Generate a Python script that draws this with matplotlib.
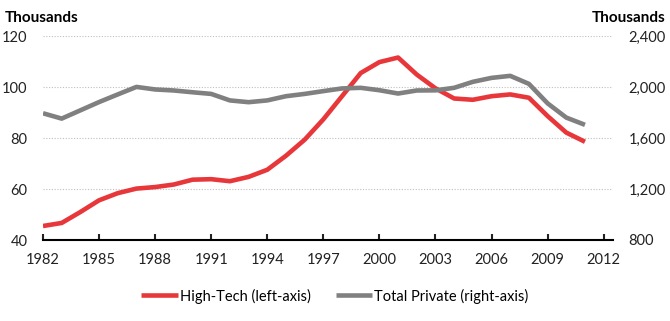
import matplotlib.pyplot as plt

plt.rcParams['font.family'] = ['Lato', 'DejaVu Sans']
plt.rcParams['font.size'] = 10.5

years = list(range(1982, 2012))
high_tech = [45.5, 46.7, 51.0, 55.6, 58.4, 60.2, 60.8, 61.8, 63.7, 63.9,
             63.1, 64.8, 67.6, 73.1, 79.4, 87.4, 96.5, 105.6, 109.9, 111.7,
             105.0, 99.6, 95.6, 95.1, 96.5, 97.2, 95.9, 88.7, 82.2, 78.6]
total_private = [1796, 1754, 1819, 1884, 1944, 2003, 1983, 1975, 1961, 1948,
                 1897, 1883, 1897, 1930, 1948, 1970, 1991, 1996, 1977, 1951,
                 1975, 1976, 1996, 2043, 2074, 2090, 2027, 1874, 1762, 1705]
xticks = list(range(1982, 2013, 3))
left_ticks = [40, 60, 80, 100, 120]
right_ticks = [800, 1200, 1600, 2000, 2400]

red = '#E8373A'
gray = '#808080'

fig = plt.figure(figsize=(6.7, 3.21), dpi=100)
ax = fig.add_axes([43 / 670, 1 - 240 / 321, 570 / 670, (240 - 36.4) / 321])
ax2 = ax.twinx()

l1, = ax.plot(years, high_tech, color=red, lw=3.3, solid_capstyle='butt',
              label='High-Tech (left-axis)')
l2, = ax2.plot(years, total_private, color=gray, lw=3.3, solid_capstyle='butt',
               label='Total Private (right-axis)')

ax.set_xlim(1982, 2012.5)
ax.set_ylim(40, 120)
ax2.set_ylim(800, 2400)
ax.set_xticks(xticks)
ax.set_yticks(left_ticks)
ax2.set_yticks(right_ticks)
ax2.set_yticklabels([f'{v:,}' for v in right_ticks])

for a in (ax, ax2):
    for side in ('top', 'left', 'right', 'bottom'):
        a.spines[side].set_visible(False)
ax.spines['bottom'].set_visible(True)
ax.spines['bottom'].set_linewidth(1.5)

ax.tick_params(axis='x', direction='in', length=4, width=1.5, pad=9,
               colors='#222222')
ax.tick_params(axis='y', length=0, pad=11, colors='#222222')
ax2.tick_params(axis='y', length=0, pad=11, colors='#222222')

ax.yaxis.grid(True, linestyle=(0, (1, 1.5)), color='#BFBFBF', lw=0.8)
ax.set_axisbelow(True)

fig.text(5 / 670, 1 - 18 / 321, 'Thousands', fontweight='bold', fontsize=11,
         ha='left', va='center')
fig.text(666 / 670, 1 - 18 / 321, 'Thousands', fontweight='bold', fontsize=11,
         ha='right', va='center')

fig.legend(handles=[l1, l2], loc='center', bbox_to_anchor=(0.5, 1 - 296 / 321),
           ncol=2, frameon=False, handlelength=2.5, handletextpad=0.15,
           columnspacing=1.7)

fig.savefig('out.png', dpi=100)
